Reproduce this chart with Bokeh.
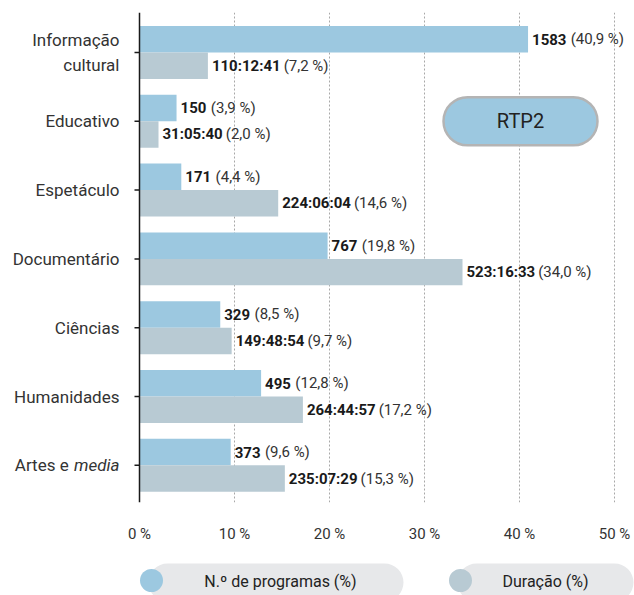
from bokeh.plotting import figure
from bokeh.models import Range1d, FixedTicker, Span, BoxAnnotation, ColumnDataSource, Label
from bokeh.layouts import column
from bokeh.transform import dodge
from bokeh.core.properties import value
from bokeh.embed import file_html
from bokeh.resources import INLINE
import math

# ---------------- data ----------------
categories = ["Informação\ncultural", "Educativo", "Espetáculo", "Documentário",
              "Ciências", "Humanidades", "Artes e"]
category_italic = ["", "", "", "", "", "", "media"]
n_programas = [1583, 150, 171, 767, 329, 495, 373]
pct_programas = [40.9, 3.9, 4.4, 19.8, 8.5, 12.8, 9.6]
duracao = ["110:12:41", "31:05:40", "224:06:04", "523:16:33", "149:48:54", "264:44:57", "235:07:29"]
pct_duracao = [7.2, 2.0, 14.6, 34.0, 9.7, 17.2, 15.3]
tick_values = [0, 10, 20, 30, 40, 50]
tick_labels = ["0 %", "10 %", "20 %", "30 %", "40 %", "50 %"]
series_names = ["N.º de programas (%)", "Duração (%)"]
badge_text = "RTP2"

BLUE = "#9cc8e0"
GRAY = "#b8cad3"
FONT = "Roboto"

def fmt_pct(v):
    return "(" + f"{v:.1f}".replace(".", ",") + " %)"

def bold_width(s, size):
    w = 0.0
    for ch in s:
        if ch.isdigit():
            w += 0.5615
        elif ch == ":":
            w += 0.259
        else:
            w += 0.5
    return w * size

VAL_SIZE = 15
idx = list(range(len(categories)))
src = ColumnDataSource(dict(
    y=idx,
    cat=categories,
    ital=category_italic,
    pp=pct_programas,
    pd=pct_duracao,
    n_txt=[str(n) for n in n_programas],
    n_pct=[fmt_pct(v) for v in pct_programas],
    n_off=[4 + bold_width(str(n), VAL_SIZE) + 5 for n in n_programas],
    d_txt=duracao,
    d_pct=[fmt_pct(v) for v in pct_duracao],
    d_off=[4 + bold_width(d, VAL_SIZE) + 5 for d in duracao],
    cat_off=[-20 - (46.6 + 4.2 if it else 0) for it in category_italic],
))

# ---------------- main figure ----------------
PX = 9.5          # pixels per percent
AX = 139          # axis x position inside the figure
W = 634
p = figure(width=W, height=555, output_backend="svg", toolbar_location=None,
           x_range=Range1d(-AX / PX, (W - AX) / PX),
           y_range=Range1d(6.54, -0.58),
           y_axis_location=None,
           min_border_left=0, min_border_right=0, min_border_top=12, min_border_bottom=53)
p.outline_line_color = None
p.ygrid.visible = False
p.xgrid.ticker = FixedTicker(ticks=tick_values[1:])
p.xgrid.grid_line_color = "#a8a8a8"
p.xgrid.grid_line_dash = "2 2"
p.xgrid.grid_line_width = 1

ax = p.xaxis[0]
ax.ticker = FixedTicker(ticks=tick_values)
ax.major_label_overrides = {v: l for v, l in zip(tick_values, tick_labels)}
ax.axis_line_color = None
ax.major_tick_line_color = None
ax.minor_tick_line_color = None
ax.major_label_standoff = 16
ax.major_label_text_font = FONT
ax.major_label_text_font_size = "15px"
ax.major_label_text_color = "#333333"

BH = 0.385
p.hbar(y=dodge("y", -BH / 2), left=0, right="pp", height=BH, source=src,
       fill_color=BLUE, line_color=None)
p.hbar(y=dodge("y", BH / 2), left=0, right="pd", height=BH, source=src,
       fill_color=GRAY, line_color=None)

# y axis line and ticks
p.add_layout(Span(location=0, dimension="height", line_color="#1a1a1a", line_width=1.5))
p.ray(x=0, y="y", length=5, length_units="screen", angle=math.pi, source=src,
      line_color="#1a1a1a", line_width=1.5)

# category labels
p.text(x=0, y="y", text="cat", x_offset="cat_off", source=src,
       text_font=value(FONT), text_font_size="17px", text_color="#333333",
       text_align="right", text_baseline="middle", text_line_height=1.27)
p.text(x=0, y="y", text="ital", x_offset=-20, source=src,
       text_font=value(FONT), text_font_size="17px", text_font_style="italic",
       text_color="#333333", text_align="right", text_baseline="middle")

# value labels
for xcol, dy, tcol, pcol, ocol in [("pp", -BH / 2, "n_txt", "n_pct", "n_off"),
                                   ("pd", BH / 2, "d_txt", "d_pct", "d_off")]:
    p.text(x=xcol, y=dodge("y", dy), text=tcol, x_offset=4, source=src,
           text_font=value(FONT), text_font_size=f"{VAL_SIZE}px", text_font_style="bold",
           text_color="#1a1a1a", text_align="left", text_baseline="middle")
    p.text(x=xcol, y=dodge("y", dy), text=pcol, x_offset=ocol, source=src,
           text_font=value(FONT), text_font_size=f"{VAL_SIZE}px",
           text_color="#333333", text_align="left", text_baseline="middle")

# RTP2 badge
badge_row = 1
p.add_layout(BoxAnnotation(left=(443 - AX) / PX, right=(597 - AX) / PX,
                           top=badge_row - 0.35, bottom=badge_row + 0.35,
                           border_radius=24, fill_color=BLUE, fill_alpha=1,
                           line_color="#b4b4b4", line_width=2.5, line_alpha=1))
p.add_layout(Label(x=(520 - AX) / PX, y=badge_row, text=badge_text,
                   text_font=FONT, text_font_size="20px", text_color="#222222",
                   text_align="center", text_baseline="middle"))

# ---------------- legend figure ----------------
leg = figure(width=W, height=40, output_backend="svg", toolbar_location=None,
             x_range=Range1d(0, W), y_range=Range1d(40, 0),
             x_axis_location=None, y_axis_location=None, min_border=0)
leg.outline_line_color = None
leg.grid.visible = False
for left, right in [(148, 403), (457, 633)]:
    leg.add_layout(BoxAnnotation(left=left, right=right, top=8, bottom=46,
                                 border_radius=19, fill_color="#e7e8ea", fill_alpha=1,
                                 line_color=None, level="underlay"))
leg.scatter(x=[151, 460], y=[25, 25], size=23, fill_color=[BLUE, GRAY], line_color=None)
leg.text(x=[280, 545], y=[26, 26], text=series_names,
         text_font=value(FONT), text_font_size="16px", text_color="#222222",
         text_align="center", text_baseline="middle")

layout = column(p, leg, spacing=0)
open("out.html", "w").write(file_html(layout, INLINE))
